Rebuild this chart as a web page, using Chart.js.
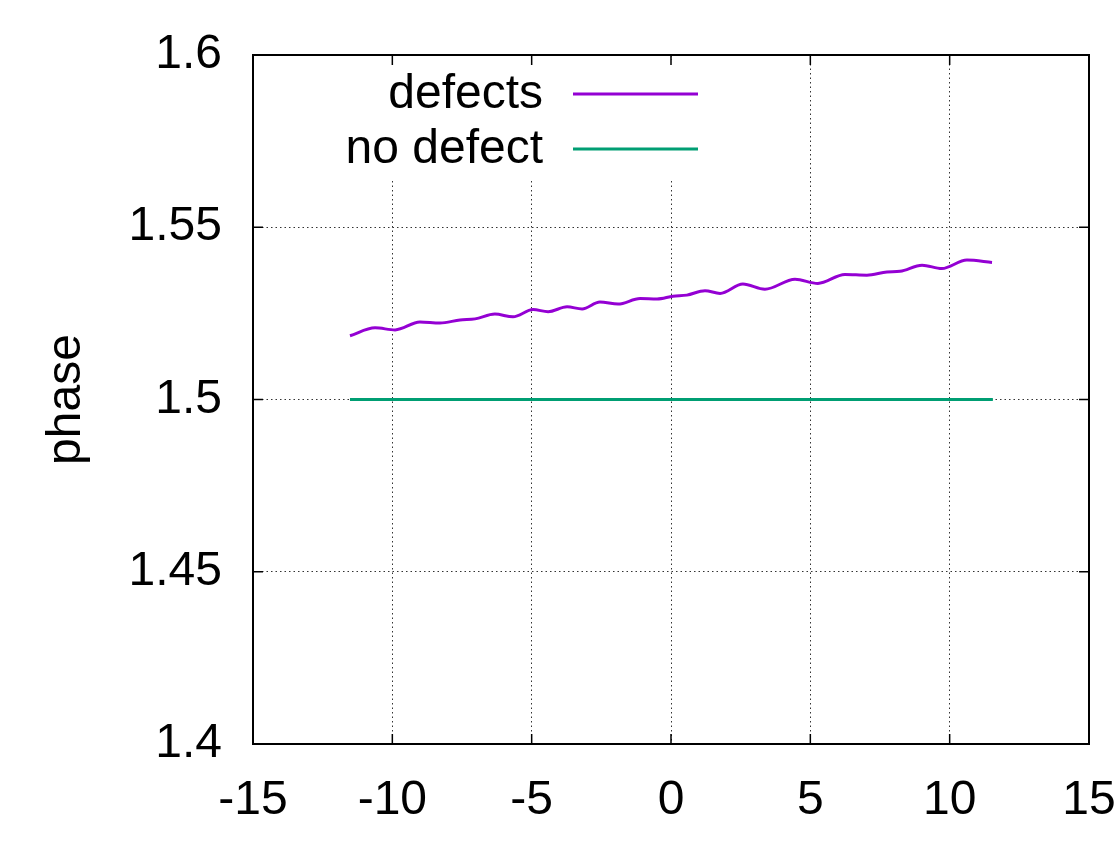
<!DOCTYPE html>
<html>
<head>
<meta charset="utf-8">
<script src="https://cdn.jsdelivr.net/npm/chart.js@4/dist/chart.umd.min.js"></script>
<style>
  body { margin: 0; background: #fff; }
  canvas { display: block; }
</style>
</head>
<body>
<canvas id="grafico" width="1115" height="861"></canvas>
<script>
// datos
var defectosX = [-11.52, -10.62, -9.90, -9.01, -8.29, -7.57, -7.03, -6.32, -5.67, -4.95, -4.41,
                 -3.73, -3.19, -2.55, -1.90, -1.11, -0.50, 0.07, 0.57, 1.22, 1.76, 2.58, 3.37,
                 4.45, 5.27, 6.24, 7.03, 7.75, 8.22, 9.01, 9.72, 10.62, 11.52];
var defectosY = [1.5185, 1.5208, 1.5202, 1.5225, 1.5222, 1.5231, 1.5234, 1.5248, 1.5240, 1.5261, 1.5255,
                 1.5269, 1.5263, 1.5283, 1.5277, 1.5293, 1.5292, 1.5300, 1.5303, 1.5316, 1.5308, 1.5335, 1.5320,
                 1.5349, 1.5337, 1.5363, 1.5361, 1.5370, 1.5372, 1.5390, 1.5380, 1.5405, 1.5398];
var sinDefectoX = [-11.52, 11.55];
var sinDefectoY = [1.5, 1.5];
var ticksX = [-15, -10, -5, 0, 5, 10, 15];
var ticksY = [1.4, 1.45, 1.5, 1.55, 1.6];
var etiquetas = ['defects', 'no defect'];

var fuente = "'Liberation Sans', Arial, sans-serif";
var tamFuente = 48;

function puntos(xs, ys) {
    return xs.map(function (x, i) { return { x: x, y: ys[i] }; });
}

// leyenda al estilo gnuplot y marcas hacia dentro
var estiloGnuplot = {
    id: 'estiloGnuplot',
    beforeDatasetsDraw: function (chart) {
        var ctx = chart.ctx;
        ctx.save();
        ctx.fillStyle = '#fff';
        ctx.fillRect(330, 60, 375, 118);
        ctx.font = tamFuente + 'px ' + fuente;
        ctx.textAlign = 'right';
        ctx.textBaseline = 'middle';
        chart.data.datasets.forEach(function (ds, i) {
            var y = 95 + i * 55;
            ctx.fillStyle = '#000';
            ctx.fillText(ds.label, 543, y);
            ctx.strokeStyle = ds.borderColor;
            ctx.lineWidth = ds.borderWidth;
            ctx.beginPath();
            ctx.moveTo(573, y - 1);
            ctx.lineTo(698, y - 1);
            ctx.stroke();
        });
        ctx.restore();
    },
    afterDraw: function (chart) {
        var ctx = chart.ctx;
        var a = chart.chartArea;
        var sx = chart.scales.x, sy = chart.scales.y;
        ctx.save();
        ctx.strokeStyle = '#000';
        ctx.lineWidth = 1.5;
        ctx.beginPath();
        ticksX.forEach(function (v) {
            var px = sx.getPixelForValue(v);
            ctx.moveTo(px, a.bottom); ctx.lineTo(px, a.bottom - 10);
            ctx.moveTo(px, a.top); ctx.lineTo(px, a.top + 10);
        });
        ticksY.forEach(function (v) {
            var py = sy.getPixelForValue(v);
            ctx.moveTo(a.left, py); ctx.lineTo(a.left + 10, py);
            ctx.moveTo(a.right, py); ctx.lineTo(a.right - 10, py);
        });
        ctx.stroke();
        ctx.lineWidth = 2;
        ctx.strokeRect(a.left, a.top, a.right - a.left, a.bottom - a.top);
        ctx.restore();
    }
};

var ctx = document.getElementById('grafico').getContext('2d');
new Chart(ctx, {
    type: 'scatter',
    data: {
        datasets: [{
            label: etiquetas[0],
            data: puntos(defectosX, defectosY),
            showLine: true,
            borderColor: '#9400d3',
            borderWidth: 3,
            pointRadius: 0,
            cubicInterpolationMode: 'monotone',
            fill: false
        }, {
            label: etiquetas[1],
            data: puntos(sinDefectoX, sinDefectoY),
            showLine: true,
            borderColor: '#009e73',
            borderWidth: 3,
            pointRadius: 0,
            fill: false
        }]
    },
    options: {
        responsive: false,
        animation: false,
        layout: { padding: { top: 55, right: 26, left: 0, bottom: 0 } },
        plugins: { legend: { display: false }, tooltip: { enabled: false } },
        scales: {
            x: {
                type: 'linear',
                min: ticksX[0],
                max: ticksX[ticksX.length - 1],
                afterBuildTicks: function (s) { s.ticks = ticksX.map(function (v) { return { value: v }; }); },
                afterFit: function (s) { s.height = 117; s.paddingLeft = 0; s.paddingRight = 0; },
                ticks: { color: '#000', padding: 28, font: { family: fuente, size: tamFuente }, maxRotation: 0 },
                grid: { color: 'rgba(0,0,0,0.8)', lineWidth: 1, drawTicks: false, tickLength: 0 },
                border: { display: false, dash: [1.5, 3] }
            },
            y: {
                type: 'linear',
                min: ticksY[0],
                max: ticksY[ticksY.length - 1],
                afterBuildTicks: function (s) { s.ticks = ticksY.map(function (v) { return { value: v }; }); },
                afterFit: function (s) { s.width = 253; s.paddingTop = 0; s.paddingBottom = 0; },
                ticks: {
                    color: '#000', padding: 31, font: { family: fuente, size: tamFuente },
                    callback: function (v) { return String(+Number(v).toFixed(2)); }
                },
                title: { display: true, text: 'phase', color: '#000', font: { family: fuente, size: tamFuente }, padding: { top: 38, bottom: 0 } },
                grid: { color: 'rgba(0,0,0,0.8)', lineWidth: 1, drawTicks: false, tickLength: 0 },
                border: { display: false, dash: [1.5, 3] }
            }
        }
    },
    plugins: [estiloGnuplot]
});
</script>
</body>
</html>
